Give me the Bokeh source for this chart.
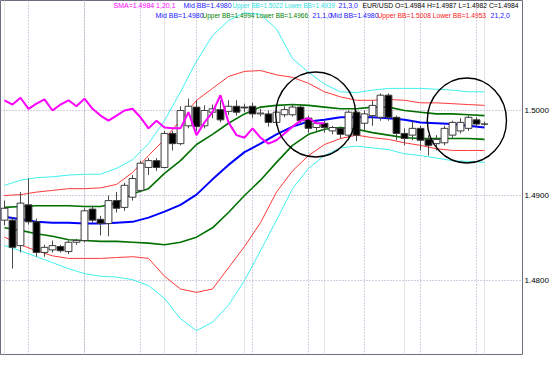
from bokeh.plotting import figure
from bokeh.models import Range1d, FixedTicker, NumeralTickFormatter, Grid, Label, ColumnDataSource, BoxAnnotation
from bokeh.embed import file_html
from bokeh.resources import INLINE

# ---------------- data (EUR/USD hourly) ----------------
bars = list(range(61))
opens = [1.4871,1.4871,1.4841,1.4889,1.4869,1.4833,1.4836,1.4840,1.4834,1.4845,
         1.4847,1.4884,1.4872,1.4867,1.4894,1.4886,1.4898,1.4906,1.4933,1.4941,
         1.4933,1.4973,1.4961,1.4982,1.5004,1.4982,1.4998,1.5001,1.4999,1.5005,
         1.5004,1.5005,1.4996,1.4996,1.4986,1.4995,1.4995,1.5004,1.4991,1.4980,
         1.4985,1.4976,1.4979,1.4971,1.4998,1.4985,1.4994,1.4992,1.5018,1.4992,
         1.4973,1.4971,1.4979,1.4966,1.4961,1.4962,1.4971,1.4976,1.4979,1.4989,1.4984]
highs = [1.4894,1.4874,1.4904,1.4920,1.4873,1.4842,1.4847,1.4842,1.4847,1.4849,
         1.4885,1.4888,1.4876,1.4900,1.4904,1.4915,1.4924,1.4941,1.4944,1.4944,
         1.4976,1.4976,1.5005,1.5014,1.5012,1.5006,1.5007,1.5012,1.5012,1.5012,
         1.5008,1.5009,1.5002,1.5000,1.5000,1.5005,1.5007,1.5006,1.4994,1.4988,
         1.4988,1.4982,1.4981,1.5000,1.5000,1.5000,1.5012,1.5020,1.5020,1.4994,
         1.4979,1.4988,1.4982,1.4971,1.4971,1.4982,1.4988,1.4991,1.4994,1.4992,1.4987]
lows = [1.4865,1.4814,1.4833,1.4866,1.4828,1.4828,1.4833,1.4833,1.4831,1.4842,
        1.4845,1.4868,1.4853,1.4852,1.4880,1.4882,1.4894,1.4904,1.4924,1.4929,
        1.4932,1.4953,1.4959,1.4979,1.4976,1.4979,1.4991,1.4986,1.4995,1.4994,
        1.4998,1.4991,1.4993,1.4981,1.4982,1.4992,1.4993,1.4984,1.4974,1.4976,
        1.4974,1.4972,1.4967,1.4965,1.4964,1.4976,1.4982,1.4988,1.4988,1.4965,
        1.4959,1.4965,1.4953,1.4947,1.4953,1.4959,1.4968,1.4973,1.4976,1.4981,1.4982]
closes = [1.4885,1.4839,1.4891,1.4869,1.4833,1.4839,1.4841,1.4835,1.4845,1.4847,
          1.4882,1.4871,1.4867,1.4894,1.4885,1.4912,1.4920,1.4938,1.4941,1.4933,
          1.4973,1.4961,1.5000,1.5005,1.4981,1.5000,1.5002,1.4989,1.5005,1.4998,
          1.5003,1.4996,1.4997,1.4986,1.4998,1.5001,1.5004,1.4988,1.4979,1.4985,
          1.4980,1.4980,1.4972,1.4998,1.4971,1.4996,1.5006,1.5018,1.4992,1.4973,
          1.4967,1.4979,1.4965,1.4959,1.4966,1.4979,1.4986,1.4986,1.4992,1.4984,1.4984]

band_bars = list(range(0, 61, 2))
mid_bb = [1.4875,1.4872,1.4869,1.4868,1.4868,1.4867,1.4867,1.4868,1.4869,1.4874,
          1.4881,1.4889,1.4901,1.4919,1.4936,1.4951,1.4961,1.4972,1.4981,1.4987,
          1.4989,1.4992,1.4992,1.4992,1.4991,1.4989,1.4986,1.4985,1.4984,1.4982,1.4980]
upper_bb1 = [1.4886,1.4887,1.4888,1.4888,1.4888,1.4887,1.4887,1.4891,1.4902,1.4908,
             1.4926,1.4941,1.4960,1.4972,1.4985,1.4996,1.5004,1.5006,1.5007,1.5006,
             1.5004,1.5002,1.5002,1.5004,1.5004,1.5000,1.4998,1.4996,1.4996,1.4995,1.4994]
lower_bb1 = [1.4862,1.4859,1.4855,1.4852,1.4848,1.4847,1.4846,1.4846,1.4845,1.4844,
             1.4842,1.4845,1.4851,1.4862,1.4880,1.4900,1.4918,1.4939,1.4959,1.4972,
             1.4978,1.4980,1.4978,1.4974,1.4971,1.4968,1.4967,1.4967,1.4967,1.4967,1.4966]
upper_bb2 = [1.4900,1.4901,1.4904,1.4906,1.4908,1.4908,1.4909,1.4913,1.4927,1.4947,
             1.4966,1.4989,1.5012,1.5026,1.5040,1.5046,1.5047,1.5042,1.5039,1.5032,
             1.5022,1.5016,1.5012,1.5012,1.5013,1.5012,1.5009,1.5009,1.5008,1.5007,1.5006]
lower_bb2 = [1.4851,1.4842,1.4835,1.4829,1.4826,1.4826,1.4826,1.4827,1.4828,1.4826,
             1.4805,1.4790,1.4786,1.4790,1.4815,1.4840,1.4868,1.4904,1.4929,1.4947,
             1.4960,1.4967,1.4971,1.4968,1.4966,1.4962,1.4959,1.4955,1.4953,1.4953,1.4953]
upper_bb3 = [1.4912,1.4918,1.4921,1.4922,1.4924,1.4925,1.4925,1.4932,1.4942,1.4961,
             1.4988,1.5022,1.5058,1.5088,1.5106,1.5115,1.5113,1.5096,1.5061,1.5045,
             1.5031,1.5022,1.5021,1.5024,1.5026,1.5026,1.5026,1.5025,1.5024,1.5022,1.5022]
lower_bb3 = [1.4841,1.4835,1.4828,1.4821,1.4814,1.4808,1.4805,1.4804,1.4801,1.4794,
             1.4779,1.4755,1.4741,1.4751,1.4771,1.4800,1.4835,1.4871,1.4908,1.4932,
             1.4947,1.4956,1.4958,1.4956,1.4954,1.4949,1.4947,1.4944,1.4941,1.4940,1.4939]

sma_bars = list(range(41))
sma = [1.5012,1.5007,1.5015,1.5002,1.5008,1.5013,1.5000,1.5007,1.5012,1.5005,
       1.5014,1.5002,1.4994,1.4988,1.4994,1.5000,1.5002,1.4992,1.4979,1.4988,
       1.4980,1.4979,1.4979,1.4998,1.4971,1.4986,1.4998,1.5018,1.4986,1.4971,
       1.4968,1.4979,1.4968,1.4961,1.4965,1.4973,1.4981,1.4988,1.4991,1.4985,1.4985]

price_ticks = [1.4800, 1.4900, 1.5000]
grid_bars = [3, 10, 17, 24, 31, 38, 45, 52, 59]
time_label_bars = [3, 9, 15, 21, 27, 33, 39, 45, 51, 57]
time_labels = ["00:00", "06:00", "9th", "17:00", "23:00", "05:00", "10th", "17:00", "23:00", "05:00"]
last_price = 1.4984

# highlighted zones (ellipses): centre bar, centre price, width in bars, height in price
zone_bars = [38.9, 57.8]
zone_prices = [1.49953, 1.49882]
zone_w = [10.0, 9.9]
zone_h = [0.0100, 0.0100]

# ---------------- geometry helpers ----------------
PX_PER_BAR = 8.0
PX_PER_PRICE = 8500.0
X0 = -0.5
P_TOP = 1.5 + 110 / PX_PER_PRICE
W, H = 559, 371
FR_W, FR_H = 522, 354

def bx(px):
    return X0 + px / PX_PER_BAR

def py(px):
    return P_TOP - px / PX_PER_PRICE

FONT = "Liberation Sans"

p = figure(width=W, height=H, output_backend="svg", toolbar_location=None,
           x_range=Range1d(bx(0), bx(FR_W)), y_range=Range1d(py(FR_H), py(0)),
           y_axis_location="right", x_axis_location=None,
           min_border_left=0, min_border_top=0, min_border_right=W - FR_W,
           min_border_bottom=H - FR_H)
p.background_fill_color = "white"
p.border_fill_color = "white"
p.outline_line_color = "#6e6e80"
p.outline_line_width = 1

# right price axis
ax = p.yaxis[0]
ax.ticker = FixedTicker(ticks=price_ticks)
ax.formatter = NumeralTickFormatter(format="0.0000")
ax.major_tick_out = 0
ax.major_tick_in = 0
ax.minor_tick_out = 0
ax.minor_tick_in = 0
ax.axis_line_color = None
ax.major_label_standoff = 2
ax.major_label_text_font = FONT
ax.major_label_text_font_size = "8px"
ax.major_label_text_color = "black"

p.ygrid.grid_line_color = "#a89cc0"
p.ygrid.grid_line_dash = "1 2"
p.ygrid.grid_line_width = 1
vgrid = Grid(dimension=0, ticker=FixedTicker(ticks=grid_bars),
             grid_line_color="#a89cc0", grid_line_dash="1 2", grid_line_width=1)
p.add_layout(vgrid)

# Bollinger bands
def band(vals, color, lw):
    p.line(band_bars, vals, line_color=color, line_width=lw)

band(upper_bb3, "#40f0f0", 1)
band(lower_bb3, "#40f0f0", 1)
band(upper_bb2, "#ff3838", 1)
band(lower_bb2, "#ff3838", 1)
band(upper_bb1, "#007000", 1.6)
band(lower_bb1, "#007000", 1.6)
band(mid_bb, "#0000ff", 2)

# candles
body_top = [max(o, c) for o, c in zip(opens, closes)]
body_bot = [min(o, c) for o, c in zip(opens, closes)]
fills = ["white" if c >= o else "black" for o, c in zip(opens, closes)]
src = ColumnDataSource(dict(x=bars, o=opens, h=highs, l=lows, c=closes,
                            top=body_top, bot=body_bot, fill=fills))
p.segment(x0="x", y0="h", x1="x", y1="l", source=src, line_color="#4a4a4a", line_width=1)
p.vbar(x="x", width=0.85, top="top", bottom="bot", source=src,
       fill_color="fill", line_color="#3c3c3c", line_width=1)

# SMA
p.line(sma_bars, sma, line_color="#ff00ff", line_width=2)

# highlight ellipses
p.ellipse(x=zone_bars, y=zone_prices, width=zone_w, height=zone_h,
          fill_color=None, line_color="black", line_width=1.4)

# time labels under the chart
for b, t in zip(time_label_bars, time_labels):
    p.add_layout(Label(x=b, y=py(363), text=t, text_align="left", text_baseline="middle",
                       text_font=FONT, text_font_size="8px", text_color="black"))

# scroll markers under the chart
for l_px, r_px in [(85, 108), (300, 527)]:
    p.add_layout(BoxAnnotation(left=bx(l_px), right=bx(r_px), top=py(357), bottom=py(359.5),
                               fill_color=None, fill_alpha=0, line_color="#8c8c8c",
                               line_width=1))

# indicator legends: (left px, centre px, text, colour, font size)
legend_rows = [
    (113, 5, "SMA=1.4984 1,20,1", "#ff00ff", "7px"),
    (183, 5, "Mid BB=1.4980", "#2020ff", "7px"),
    (232, 5, "Upper BB=1.5022 Lower BB=1.4939", "#30e0e0", "6.3px"),
    (338, 5, "21,3,0", "#2020ff", "7px"),
    (362, 5, "EUR/USD O=1.4984 H=1.4987 L=1.4982 C=1.4984", "black", "6.8px"),
    (155, 15, "Mid BB=1.4980", "#2020ff", "7px"),
    (202, 15, "Upper BB=1.4994 Lower BB=1.4966", "#008000", "6.5px"),
    (312, 15, "21,1,0", "#2020ff", "7px"),
    (330, 15, "Mid BB=1.4980", "#2020ff", "7px"),
    (377, 15, "Upper BB=1.5008 Lower BB=1.4953", "#ff2020", "6.7px"),
    (490, 15, "21,2,0", "#2020ff", "7px"),
]
for xp, yp, t, col, fs in legend_rows:
    p.add_layout(Label(x=bx(xp), y=py(yp), text=t, text_align="left", text_baseline="middle",
                       text_font=FONT, text_font_size=fs, text_color=col))

# last price marker
p.add_layout(Label(x=bx(523), y=last_price, text="%.4f" % last_price, text_align="left",
                   text_baseline="middle", text_font=FONT, text_font_size="8px",
                   text_color="white", background_fill_color="black", padding=1))

open("out.html", "w").write(file_html(p, INLINE))
